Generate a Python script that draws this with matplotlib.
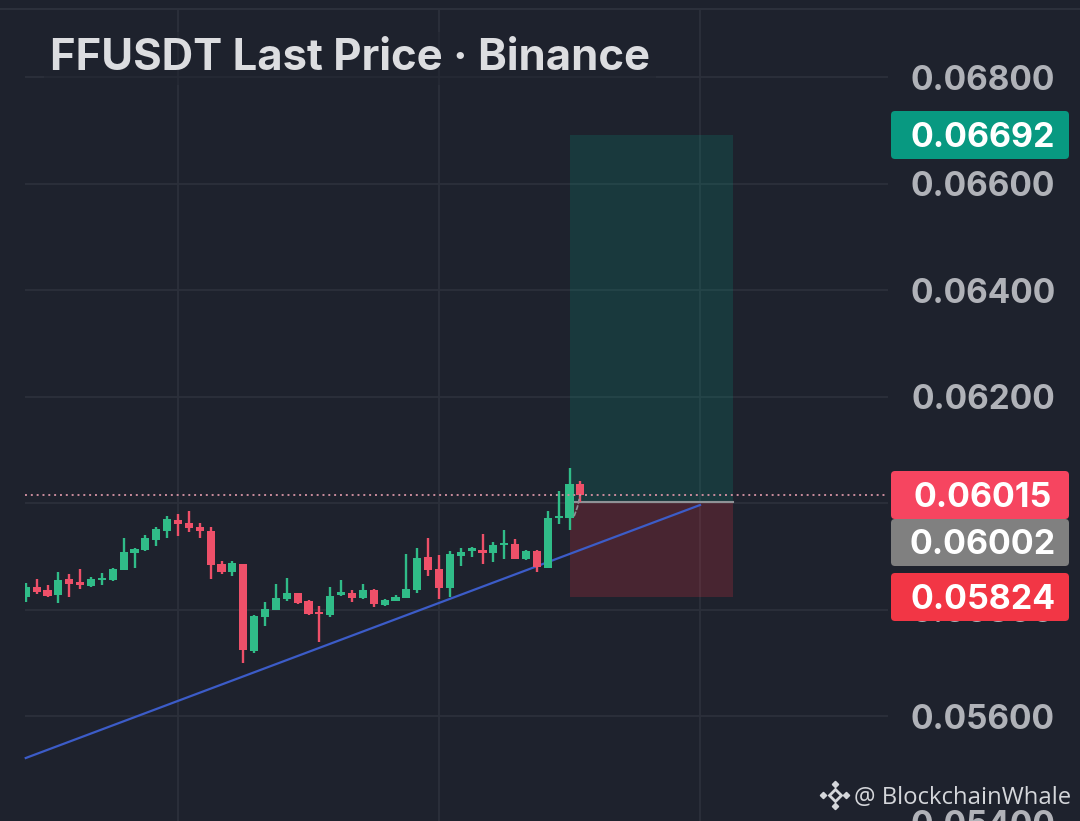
import matplotlib
matplotlib.use('Agg')
import matplotlib.pyplot as plt
from matplotlib.patches import Rectangle, FancyBboxPatch
from matplotlib.transforms import IdentityTransform

# candles
opens = [0.058241, 0.058429, 0.058366, 0.058272, 0.058566, 0.058516, 0.058447, 0.058554, 0.058554, 0.058742,
         0.059061, 0.059117, 0.059305, 0.059480, 0.059681, 0.059631, 0.059555, 0.059480, 0.058854, 0.058698,
         0.058854, 0.057220, 0.057853, 0.057990, 0.058191, 0.058304, 0.058160, 0.057960, 0.057891, 0.058273,
         0.058317, 0.058223, 0.058367, 0.058091, 0.058166, 0.058223, 0.058367, 0.058986, 0.058761, 0.058404,
         0.059011, 0.059099, 0.059124, 0.059061, 0.059212, 0.059230, 0.058949, 0.059099, 0.058786, 0.059712,
         0.059719, 0.060357]
closes = [0.058416, 0.058329, 0.058253, 0.058554, 0.058472, 0.058460, 0.058566, 0.058598, 0.058760, 0.059080,
          0.059142, 0.059349, 0.059505, 0.059699, 0.059599, 0.059524, 0.059474, 0.058835, 0.058698, 0.058879,
          0.057239, 0.057884, 0.058015, 0.058216, 0.058310, 0.058116, 0.057916, 0.057922, 0.058254, 0.058329,
          0.058210, 0.058367, 0.058097, 0.058179, 0.058229, 0.058385, 0.058968, 0.058742, 0.058404, 0.059043,
          0.059074, 0.059149, 0.059061, 0.059212, 0.059249, 0.058949, 0.059099, 0.058798, 0.059712, 0.059750,
          0.060357, 0.060144]
highs = [0.058504, 0.058566, 0.058460, 0.058710, 0.058666, 0.058760, 0.058616, 0.058679, 0.058779, 0.059349,
         0.059155, 0.059399, 0.059555, 0.059756, 0.059793, 0.059856, 0.059618, 0.059555, 0.058904, 0.058904,
         0.058854, 0.057896, 0.058147, 0.058479, 0.058585, 0.058316, 0.058172, 0.058072, 0.058429, 0.058554,
         0.058367, 0.058473, 0.058385, 0.058198, 0.058266, 0.059043, 0.059155, 0.059349, 0.059024, 0.059099,
         0.059149, 0.059180, 0.059418, 0.059268, 0.059493, 0.059324, 0.059118, 0.059118, 0.059850, 0.060226,
         0.060658, 0.060414]
lows = [0.058147, 0.058291, 0.058241, 0.058116, 0.058228, 0.058385, 0.058416, 0.058460, 0.058541, 0.058742,
        0.058779, 0.059105, 0.059192, 0.059336, 0.059380, 0.059449, 0.059336, 0.058566, 0.058660, 0.058629,
        0.057001, 0.057189, 0.057690, 0.057990, 0.058166, 0.058104, 0.057904, 0.057396, 0.057866, 0.058254,
        0.058148, 0.058198, 0.058054, 0.058066, 0.058154, 0.058223, 0.058304, 0.058636, 0.058198, 0.058235,
        0.058817, 0.058986, 0.058855, 0.058892, 0.058949, 0.058949, 0.058930, 0.058705, 0.058786, 0.059606,
        0.059493, 0.060025]

y_ticks = [0.068, 0.066, 0.064, 0.062, 0.060, 0.058, 0.056, 0.054]
x_grid = [14, 38, 62]

last_price = 0.06015
entry = 0.06002
target = 0.06692
stop = 0.05824
pos_start, pos_end = 50, 65
trend_x = [0, 62]
trend_y = [0.055211, 0.059962]
arrow_x = [50.42, 50.72, 50.95]
arrow_y = [0.05975, 0.05992, 0.06012]

BG = '#1e222d'
GRID = '#2c303b'
GREEN = '#30bc88'
RED = '#ee5069'
AXIS_TEXT = '#b0b2b8'
W, H = 1080, 821
FONT = 'Inter'

fig = plt.figure(figsize=(W / 100, H / 100), dpi=100, facecolor=BG)
ax = fig.add_axes([0, 0, 1, 1], facecolor=BG)
ax.set_xlim(-25.75 / 10.875, (W - 25.75) / 10.875)
ax.set_ylim(0.068 - (H - 77) / 53250, 0.068 + 77 / 53250)
ax.axis('off')
ytrans = ax.get_yaxis_transform()
xtrans = ax.get_xaxis_transform()
px = IdentityTransform()  # screen pixels, for the labels that sit off the scale

# grid
ax.hlines(y_ticks, 25 / W, 888 / W, color=GRID, lw=1.3, transform=ytrans, zorder=1)
ax.vlines(x_grid, 0, 1 - 9 / H, color=GRID, lw=1.3, transform=xtrans, zorder=1)
ax.plot([0, W], [H - 9, H - 9], color=GRID, lw=1.5, transform=px, zorder=1)

# long position box
ax.add_patch(Rectangle((pos_start, entry), pos_end - pos_start, target - entry,
                       facecolor='#089981', alpha=0.2, lw=0, zorder=2))
ax.add_patch(Rectangle((pos_start, stop), pos_end - pos_start, entry - stop,
                       facecolor='#f23645', alpha=0.2, lw=0, zorder=2))
ax.plot([pos_start, pos_end], [entry, entry], color='#8f9296', lw=1.5, zorder=3)

ax.plot(trend_x, trend_y, color='#3c5cc8', lw=1.6, zorder=3)

# candles
clip = Rectangle((25, 0), 863, H, transform=px)
for i in range(len(opens)):
    c = GREEN if closes[i] >= opens[i] else RED
    wick = ax.vlines(i, lows[i], highs[i], color=c, lw=1.7, zorder=4)
    body = ax.bar(i, abs(closes[i] - opens[i]), 0.74, bottom=min(opens[i], closes[i]), color=c, lw=0, zorder=4)
    wick.set_clip_path(clip)
    body[0].set_clip_path(clip)
ax.plot(arrow_x, arrow_y, color='#8f9296', lw=1.2, ls=(0, (3, 1)), zorder=5)

ax.hlines(last_price, 25 / W, 888 / W, color='#c98b9c', lw=1.4, ls=(0, (1, 2)), transform=ytrans, zorder=5)

# price axis
for t in y_ticks:
    ax.text(983 / W, t, f'{t:.5f}', color=AXIS_TEXT, fontsize=24, fontweight='bold', family=FONT,
            ha='center', va='center_baseline', transform=ytrans, zorder=6)

# price tags
tags = [(target, 111, 159, '#089981'), (last_price, 471, 519, '#f64560'),
        (stop, 573, 621, '#f23645'), (entry, 519, 566, '#808080')]
for value, top, bottom, colour in tags:
    ax.add_patch(FancyBboxPatch((895, H - bottom + 4), 170, bottom - top - 8,
                                boxstyle='round,pad=4,rounding_size=4', facecolor=colour, lw=0,
                                transform=px, zorder=7))
    ax.text(983, H - (top + bottom) / 2 + 1, f'{value:.5f}', color='white', fontsize=24.5, fontweight='bold',
            family=FONT, ha='center', va='center_baseline', transform=px, zorder=8)

# title
ax.text(50, H - 54, 'FFUSDT Last Price · Binance', color='#dcdde0', fontsize=31.4, fontweight='bold', family=FONT,
        ha='left', va='center_baseline', transform=px, zorder=6,
        bbox=dict(facecolor=BG, edgecolor='none', alpha=0.45, pad=4))

# watermark
ax.text(1071, H - 795, '@ BlockchainWhale', color='#d4d6da', fontsize=17.2, family='Open Sans',
        ha='right', va='center_baseline', transform=px, zorder=9)
ax.plot([834.5], [H - 795], marker='D', ms=6, mfc='none', mec='#d4d6da', mew=2, transform=px, zorder=9)
ax.plot([823, 846, 834.5, 834.5], [H - 795, H - 795, H - 784, H - 806], ls='none', marker='D', ms=3.2,
        color='#d4d6da', transform=px, zorder=9)

fig.savefig('out.png', dpi=100, facecolor=BG)
